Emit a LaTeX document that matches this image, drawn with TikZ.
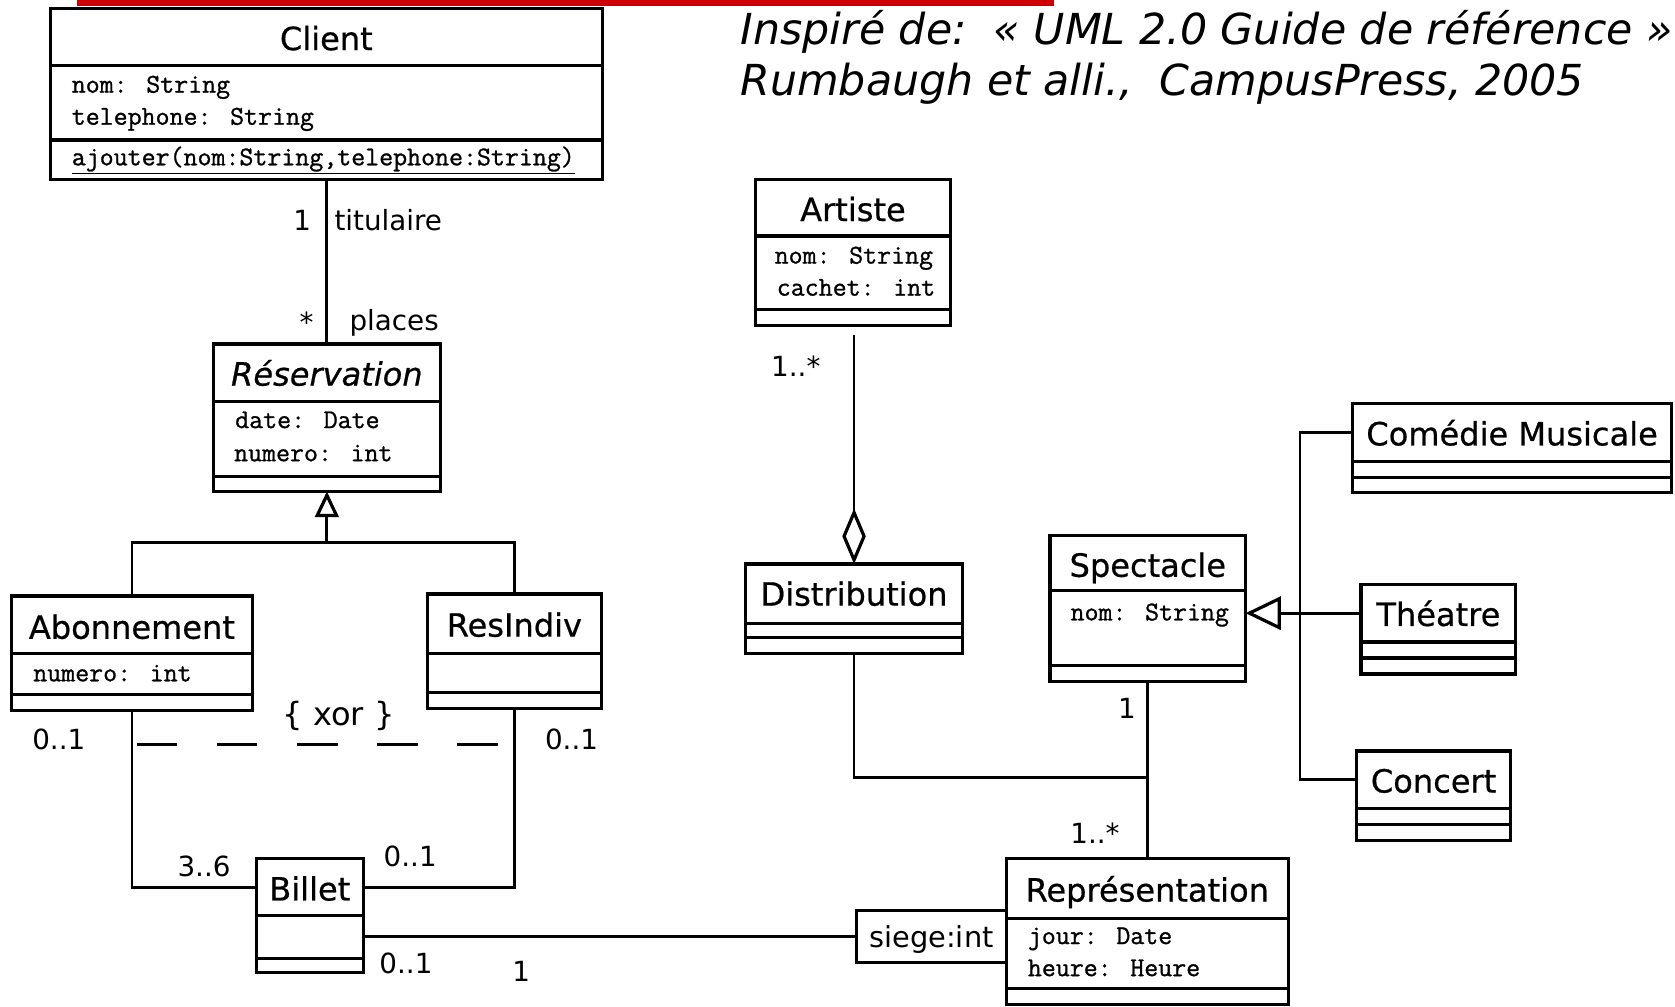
\documentclass[tikz,border=0pt]{standalone}
\usepackage{fontspec}
\setmainfont{DejaVu Sans}
\newfontfamily\attrfont{Latin Modern Mono}[FakeBold=1]
\newfontfamily\clsfont{DejaVu Sans}[FakeBold=0.6]
\usetikzlibrary{arrows.meta,calc,fit}
\definecolor{barred}{HTML}{CC0000}
\begin{document}
\begin{tikzpicture}[x=1pt,y=-1pt,
  box/.style={draw, line width=3pt, inner sep=0pt, outer sep=0pt},
  div/.style={line width=3pt},
  conn/.style={line width=2.6pt},
  cname/.style={inner sep=0pt, text height=21.9pt, text depth=0pt, font=\clsfont\fontsize{30}{36}\selectfont},
  attr/.style={inner sep=0pt, anchor=west, text height=15.5pt, text depth=0pt, font=\attrfont\fontsize{25.4}{30}\selectfont},
  lbl/.style={inner sep=0pt, text height=19pt, text depth=0pt, font=\fontsize{26}{30}\selectfont},
  ttl/.style={inner sep=0pt, anchor=west, text height=29.2pt, text depth=0pt, font=\fontsize{40}{48}\selectfont\itshape},
  gensmall/.style={-{Triangle[open,length=24pt,width=22pt,line width=3pt]}},
  genbig/.style={-{Triangle[open,length=33pt,width=31pt,line width=3pt]}},
  aggr/.style={-{Diamond[open,length=52pt,width=22pt,line width=3pt]}},
]
\useasboundingbox (0,0) rectangle (1568,942);
\fill[white] (0,0) rectangle (1568,942);
% red bar
\fill[barred] (72,0) rectangle (987,6);
% title
\node[ttl] (title1) at (693,27) {Inspiré de:~~« UML 2.0 Guide de référence »};
\node[ttl] (title2) at (693,75) {Rumbaugh et alli.,~~CampusPress, 2005};

% Client
\node[box, fit={(47,8)(564,168)}] (client) {};
\draw[div] (client.west |- 0,61) -- (client.east |- 0,61);
\draw[div] (client.west |- 0,131) -- (client.east |- 0,131);
\node[cname] (clientN) at (305.5,36) {Client};
\node[attr] (clientA1) at (67,79) {nom: String};
\node[attr] (clientA2) at (67,109) {telephone: String};
\node[attr] (clientO1) at (67,147) {\underline{ajouter(nom:String,telephone:String)}};

% Reservation
\node[box, fit={(200,322)(412,460)}] (resa) {};
\draw[div] (resa.west |- 0,376) -- (resa.east |- 0,376);
\draw[div] (resa.west |- 0,446) -- (resa.east |- 0,446);
\node[cname, font=\clsfont\fontsize{30}{36}\selectfont\itshape] (resaN) at (306,350) {Réservation};
\node[attr] (resaA1) at (220,393) {date: Date};
\node[attr] (resaA2) at (219,424) {numero: int};

% Abonnement
\node[box, fit={(11,558)(236,665)}] (abon) {};
\draw[div] (abon.west |- 0,612) -- (abon.east |- 0,612);
\draw[div] (abon.west |- 0,650) -- (abon.east |- 0,650);
\node[cname] (abonN) at (123.5,587) {Abonnement};
\node[attr] (abonA1) at (31,630) {numero: int};

% ResIndiv
\node[box, fit={(400,556)(563,663)}] (resind) {};
\draw[div] (resind.west |- 0,612) -- (resind.east |- 0,612);
\draw[div] (resind.west |- 0,648) -- (resind.east |- 0,648);
\node[cname] (resindN) at (481.5,585) {ResIndiv};

% Billet
\node[box, fit={(240,804)(340,910)}] (billet) {};
\draw[div] (billet.west |- 0,857) -- (billet.east |- 0,857);
\draw[div] (billet.west |- 0,897) -- (billet.east |- 0,897);
\node[cname] (billetN) at (290,832) {Billet};

% siege:int
\node[box, fit={(802,852)(942,901)}] (siege) {};
\node[lbl, text height=19.7pt, font=\fontsize{27}{32}\selectfont] (siegeT) at (872,877) {siege:int};

% Representation
\node[box, fit={(942,804)(1206,940)}] (repr) {};
\draw[div] (repr.west |- 0,860) -- (repr.east |- 0,860);
\draw[div] (repr.west |- 0,925) -- (repr.east |- 0,925);
\node[cname] (reprN) at (1074,833) {Représentation};
\node[attr] (reprA1) at (962,876) {jour: Date};
\node[attr] (reprA2) at (962,906) {heure: Heure};

% Artiste
\node[box, fit={(707,168)(890,305)}] (artiste) {};
\draw[div] (artiste.west |- 0,221) -- (artiste.east |- 0,221);
\draw[div] (artiste.west |- 0,290) -- (artiste.east |- 0,290);
\node[cname] (artisteN) at (798.5,196) {Artiste};
\node[attr] (artisteA1) at (725,239) {nom: String};
\node[attr] (artisteA2) at (727,269) {cachet: int};

% Distribution
\node[box, fit={(698,528)(901,612)}] (distrib) {};
\draw[div] (distrib.west |- 0,584) -- (distrib.east |- 0,584);
\draw[div] (distrib.west |- 0,597) -- (distrib.east |- 0,597);
\node[cname] (distribN) at (799.5,556) {Distribution};

% Spectacle
\node[box, fit={(983,501)(1166,638)}] (spect) {};
\draw[div] (spect.west |- 0,553) -- (spect.east |- 0,553);
\draw[div] (spect.west |- 0,623) -- (spect.east |- 0,623);
\node[cname] (spectN) at (1074.5,529) {Spectacle};
\node[attr] (spectA1) at (1002,573) {nom: String};

% Comedie Musicale
\node[box, fit={(1266,378)(1565,461)}] (comedie) {};
\draw[div] (comedie.west |- 0,432) -- (comedie.east |- 0,432);
\draw[div] (comedie.west |- 0,447) -- (comedie.east |- 0,447);
\node[cname] (comedieN) at (1415.5,406) {Comédie Musicale};

% Theatre
\node[box, fit={(1274,547)(1419,631)}] (theatre) {};
\draw[div] (theatre.west |- 0,601) -- (theatre.east |- 0,601);
\draw[div] (theatre.west |- 0,616) -- (theatre.east |- 0,616);
\node[cname] (theatreN) at (1346.5,575) {Théatre};

% Concert
\node[box, fit={(1270,703)(1414,787)}] (concert) {};
\draw[div] (concert.west |- 0,757) -- (concert.east |- 0,757);
\draw[div] (concert.west |- 0,772) -- (concert.east |- 0,772);
\node[cname] (concertN) at (1342,731) {Concert};

% ---------- connectors ----------
% Client - Reservation
\draw[conn] (resa.north |- client.south) -- (resa.north);
\node[lbl] (m1) at (283,206) {1};
\node[lbl, anchor=west] (r1) at (313,206) {titulaire};
\node[lbl] (m2) at (287,302) {*};
\node[lbl] (r2) at (369,300) {places};

% generalisation Reservation
\coordinate (g1) at ($(resa.south)+(0,48)$);
\draw[conn] (abon.north) |- (g1) -| (resind.north);
\draw[conn, gensmall] (g1) -- (resa.south);

% Abonnement / ResIndiv - Billet
\draw[conn] (abon.south) |- ([yshift=26.5pt]billet.west);
\draw[conn] (resind.south) |- ([yshift=26.5pt]billet.east);
\coordinate (xorL) at (128,697);
\coordinate (xorR) at (470,697);
\draw[line width=3pt, dash pattern=on 38pt off 37pt] (xorL) -- (xorR);
\node[lbl, text height=21.9pt, font=\fontsize{30}{36}\selectfont] (xor) at (317,668) {\{ xor \}};
\node[lbl] (m3) at (55,692) {0..1};
\node[lbl] (m4) at (535,692) {0..1};
\node[lbl] (m5) at (191,811) {3..6};
\node[lbl] (m6) at (384,802) {0..1};

% Billet - siege:int
\draw[conn] (billet.east |- siege.west) -- (siege.west);
\node[lbl] (m7) at (380,902) {0..1};
\node[lbl] (m8) at (488,909) {1};

% Artiste - Distribution
\draw[conn, aggr] ($(distrib.north |- artiste.south)+(0,9)$) -- (distrib.north);
\node[lbl] (m9) at (745,343) {1..*};

% Spectacle - Representation
\draw[conn] (spect.south) -- (spect.south |- repr.north);
\coordinate (j2) at ($(spect.south)!0.542!(spect.south |- repr.north)$);
\draw[conn] (distrib.south) |- (j2);
\node[lbl] (m10) at (1055,663) {1};
\node[lbl] (m11) at (1025,780) {1..*};

% generalisation Spectacle
\coordinate (tbar) at ($(theatre.west)+(-57,-15)$);
\draw[conn, genbig] ([yshift=15pt]theatre.west) -- (spect.east |- tbar);
\draw[conn] ([yshift=14.5pt]comedie.west) -| (tbar) |- ([yshift=15pt]concert.west);
\end{tikzpicture}
\end{document}
